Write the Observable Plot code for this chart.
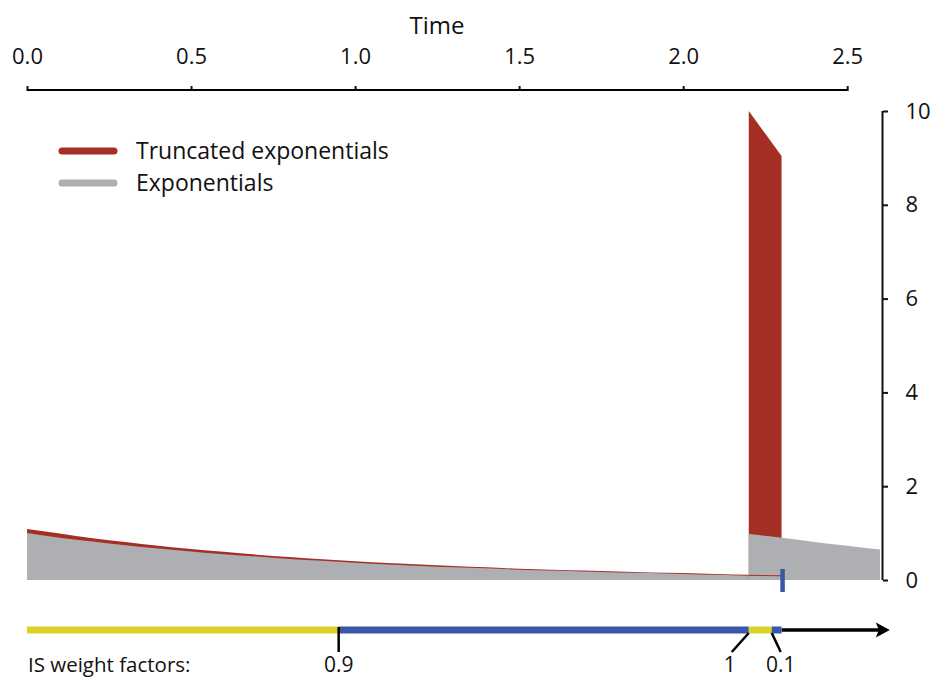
<!DOCTYPE html>
<html>
<head>
<meta charset="utf-8">
<script src="https://cdn.jsdelivr.net/npm/d3@7"></script>
<script src="https://cdn.jsdelivr.net/npm/@observablehq/plot@0.6"></script>
<style>
  html, body { margin: 0; padding: 0; background: #fff; }
  #chart svg { display: block; }
</style>
</head>
<body>
<div id="chart"></div>
<script>
// ---- data ----
const timeGrid        = [0.0,0.1,0.2,0.3,0.4,0.5,0.6,0.7,0.8,0.9,1.0,1.1,1.2,1.3,1.4,1.5,1.6,1.7,1.8,1.9,2.0,2.1,2.2];
const truncatedValues = [1.09,0.99,0.89,0.81,0.73,0.66,0.60,0.54,0.49,0.44,0.40,0.36,0.33,0.30,0.27,0.24,0.22,0.20,0.18,0.16,0.15,0.13,0.11];
const exponentialValues=[1.00,0.90,0.82,0.74,0.67,0.61,0.55,0.50,0.45,0.41,0.37,0.33,0.30,0.27,0.25,0.22,0.20,0.18,0.16,0.15,0.13,0.11,0.09];

const restartTime        = [2.2,2.3,2.4,2.5,2.6];
const restartExpValues   = [0.98,0.90,0.81,0.73,0.65];
const truncRestartTime   = [2.2,2.25,2.3];
const truncRestartValues = [10.0,9.52,9.04];
const truncTailTime      = [2.2,2.3];
const truncTailValues    = [0.11,0.10];

const sampleTime = [2.3];

const timeTicks    = [0,0.5,1,1.5,2,2.5];
const densityTicks = [0,2,4,6,8,10];

const weightSegStart = [0,0.95,2.2,2.27];
const weightSegEnd   = [0.95,2.2,2.27,2.3];
const weightSegKind  = ["low","high","low","high"];
const weightBreaks   = [0.95,2.2,2.27];
const weightLabels   = ["0.9","1","0.1"];
const arrowEnd       = 2.63;

const seriesNames = ["Truncated exponentials","Exponentials"];

// ---- styles ----
const RED = "#a52f25", GREY = "#aeafb2", YELLOW = "#d9d327", BLUE = "#3a56a6";
const FONT = "'Open Sans', sans-serif";

const zip = (xs, ys) => xs.map((t, i) => ({t, v: ys[i]}));
const truncData = zip(timeGrid, truncatedValues);
const expData = zip(timeGrid, exponentialValues);
const restartData = zip(restartTime, restartExpValues);
const truncRestartData = zip(truncRestartTime, truncRestartValues);
const tailData = zip(truncTailTime, truncTailValues);
const segments = weightSegStart.map((s, i) => ({s, e: weightSegEnd[i], k: weightSegKind[i]}));

function legend(index, scales, values, dimensions) {
  const g = d3.create("svg:g").attr("font-family", FONT).attr("font-size", 23).attr("text-anchor", "start");
  const cols = [RED, GREY];
  seriesNames.forEach((name, i) => {
    const y = 151 + i * 32;
    g.append("line").attr("x1", 62).attr("x2", 114).attr("y1", y).attr("y2", y)
      .attr("stroke", cols[i]).attr("stroke-width", 7).attr("stroke-linecap", "round");
    g.append("text").attr("x", 136).attr("y", y).attr("dy", "0.35em").attr("fill", "#111").text(name);
  });
  return g.node();
}

function timeline(index, scales, values, dimensions) {
  const X = scales.x, Y = scales.y;
  const yb = Y(0) + 50;
  const g = d3.create("svg:g").attr("font-family", FONT).attr("text-anchor", "start");
  // top axis domain line
  g.append("line").attr("x1", X(timeTicks[0])).attr("x2", X(timeTicks[timeTicks.length-1]))
    .attr("y1", dimensions.marginTop).attr("y2", dimensions.marginTop)
    .attr("stroke", "#000").attr("stroke-width", 2);
  // sample marker
  g.append("line").attr("x1", X(sampleTime[0]) + 1).attr("x2", X(sampleTime[0]) + 1)
    .attr("y1", Y(0) - 11).attr("y2", Y(0) + 12)
    .attr("stroke", BLUE).attr("stroke-width", 4.5);
  // arrow
  const xs = X(weightSegEnd[weightSegEnd.length-1]), xe = X(arrowEnd);
  g.append("line").attr("x1", xs).attr("x2", xe - 10).attr("y1", yb).attr("y2", yb)
    .attr("stroke", "#000").attr("stroke-width", 3.5);
  g.append("path").attr("d", `M${xe},${yb} L${xe-14},${yb-7.5} L${xe-11},${yb} L${xe-14},${yb+7.5} Z`).attr("fill", "#000");
  // coloured segments
  segments.forEach(d => {
    g.append("line").attr("x1", X(d.s)).attr("x2", X(d.e)).attr("y1", yb).attr("y2", yb)
      .attr("stroke", d.k === "low" ? YELLOW : BLUE).attr("stroke-width", 7);
  });
  // break ticks and labels
  const slant = [0, -17, 9];
  const labelShift = [0, -19, 9];
  weightBreaks.forEach((b, i) => {
    const x0 = X(b);
    g.append("line").attr("x1", x0).attr("x2", x0 + slant[i])
      .attr("y1", yb + (i === 0 ? -3 : 3)).attr("y2", yb + 22)
      .attr("stroke", "#000").attr("stroke-width", 2.5);
    g.append("text").attr("x", x0 + labelShift[i]).attr("y", yb + 42)
      .attr("text-anchor", "middle").attr("font-size", 21).attr("fill", "#111").text(weightLabels[i]);
  });
  g.append("text").attr("x", X(0) + 1).attr("y", yb + 42).attr("font-size", 20.5).attr("fill", "#111")
    .text("IS weight factors:");
  // axis title
  g.append("text").attr("x", X(d3.mean(d3.extent(timeTicks)))).attr("y", 34)
    .attr("text-anchor", "middle").attr("font-size", 24).attr("fill", "#111").text("Time");
  return g.node();
}

const plot = Plot.plot({
  width: 932,
  height: 677,
  marginLeft: 27,
  marginRight: 52,
  marginTop: 90,
  marginBottom: 97,
  style: {fontFamily: FONT, fontSize: "22px", color: "#111", background: "#fff", overflow: "visible"},
  x: {domain: [0, 2.6]},
  y: {domain: [0, 10], range: [580, 111]},
  marks: [
    Plot.areaY(truncData, {x: "t", y: "v", fill: RED, curve: "monotone-x"}),
    Plot.areaY(truncRestartData, {x: "t", y: "v", fill: RED}),
    Plot.areaY(expData, {x: "t", y: "v", fill: GREY, curve: "monotone-x"}),
    Plot.areaY(restartData, {x: "t", y: "v", fill: GREY, curve: "monotone-x"}),
    Plot.lineY(tailData, {x: "t", y: "v", stroke: RED, strokeWidth: 1}),
    Plot.axisX(timeTicks, {anchor: "top", tickSize: 5, tickPadding: 22, strokeWidth: 2, tickFormat: d3.format(".1f"), label: null, fontSize: 22}),
    Plot.axisY(densityTicks, {anchor: "right", tickSize: 5, tickPadding: 18, dx: 2, strokeWidth: 2, label: null, fontSize: 22}),
    Plot.ruleX([restartTime[restartTime.length-1]], {y1: densityTicks[0], y2: densityTicks[densityTicks.length-1], dx: 2, strokeWidth: 2}),
    legend,
    timeline
  ]
});
document.getElementById("chart").append(plot);
</script>
</body>
</html>
